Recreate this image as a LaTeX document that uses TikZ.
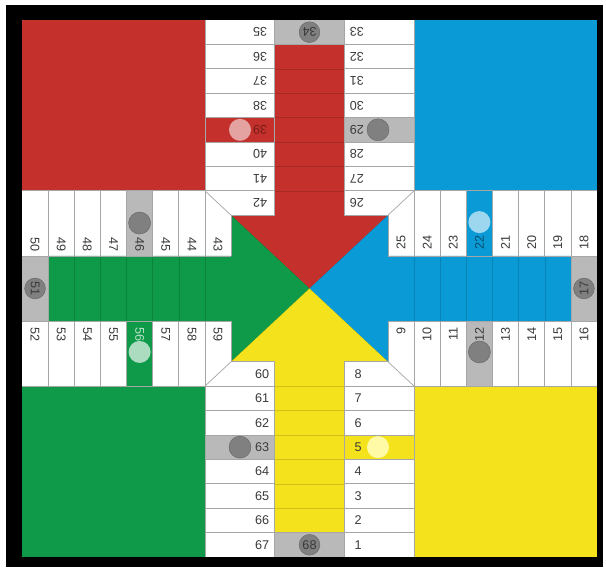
\documentclass[tikz,border=0pt]{standalone}
\usepackage{fontspec}
\setmainfont{Liberation Sans}
\usepackage{tikz}

\definecolor{parred}{HTML}{C4302B}
\definecolor{parblue}{HTML}{0A9BD7}
\definecolor{pargreen}{HTML}{0E9A48}
\definecolor{paryellow}{HTML}{F4E31C}
\definecolor{safegray}{HTML}{B9B9B9}
\definecolor{tokengray}{HTML}{808080}
\definecolor{numtext}{HTML}{3A3A3A}

\def\lanel{9.6667}
\def\laner{12.3333}

\begin{document}
\begin{tikzpicture}[x=0.6534cm, y=0.6102cm,
	every node/.style={font=\fontsize{9}{10}\selectfont},
	num/.style={text=numtext, inner sep=0pt},
	cellline/.style={draw=black!35, line width=0.5pt},
	lanediv/.style={draw=#1!85!black, line width=0.3pt},
	darktoken/.style={fill=tokengray, draw=black!60, line width=0.3pt}]
	\useasboundingbox (-0.8416,-0.4916) rectangle (22.344,22.819);
	\fill[black] (-0.612,-0.41) rectangle (22.23,22.614);
	% home squares
	\fill[parred] (0,15) rectangle (7,22);
	\fill[parblue] (15,15) rectangle (22,22);
	\fill[pargreen] (0,0) rectangle (7,7);
	\fill[paryellow] (15,0) rectangle (22,7);
	% arms
	\fill[white] (7,14) rectangle (15,22);
	\fill[white] (7,0) rectangle (15,8);
	\fill[white] (0,7) rectangle (8,15);
	\fill[white] (14,7) rectangle (22,15);
	% home lanes and centre
	\fill[parred] (\lanel,21) -- (\laner,21) -- (\laner,14) -- (14,14) -- (11,11) -- (8,14) -- (\lanel,14) -- cycle;
	\fill[pargreen] (1,\lanel) -- (1,\laner) -- (8,\laner) -- (8,14) -- (11,11) -- (8,8) -- (8,\lanel) -- cycle;
	\fill[parblue] (21,\lanel) -- (21,\laner) -- (14,\laner) -- (14,14) -- (11,11) -- (14,8) -- (14,\lanel) -- cycle;
	\fill[paryellow] (\lanel,1) -- (\laner,1) -- (\laner,8) -- (14,8) -- (11,11) -- (8,8) -- (\lanel,8) -- cycle;
	% safe cells
	\fill[safegray] (\lanel,21) rectangle (\laner,22);
	\fill[safegray] (\lanel,0) rectangle (\laner,1);
	\fill[safegray] (0,\lanel) rectangle (1,\laner);
	\fill[safegray] (21,\lanel) rectangle (22,\laner);
	\fill[safegray] (\laner,17) rectangle (15,18);
	\fill[safegray] (4,\laner) rectangle (5,15);
	\fill[safegray] (7,4) rectangle (\lanel,5);
	\fill[safegray] (17,7) rectangle (18,\lanel);
	\fill[parred] (7,17) rectangle (\lanel,18);
	\fill[pargreen] (4,7) rectangle (5,\lanel);
	\fill[paryellow] (\laner,4) rectangle (15,5);
	\fill[parblue] (17,\laner) rectangle (18,15);
	% lane dividers
	\foreach \i in {15,...,20} \draw[lanediv=parred] (\lanel,\i) -- (\laner,\i);
	\foreach \i in {2,...,7} \draw[lanediv=paryellow] (\lanel,\i) -- (\laner,\i);
	\foreach \i in {2,...,7} \draw[lanediv=pargreen] (\i,\lanel) -- (\i,\laner);
	\foreach \i in {15,...,20} \draw[lanediv=parblue] (\i,\lanel) -- (\i,\laner);
	% cell lines
	\foreach \i in {1,...,7} {
		\draw[cellline] (7,\i) -- (\lanel,\i) (\laner,\i) -- (15,\i);
		\draw[cellline] (\i,7) -- (\i,\lanel) (\i,\laner) -- (\i,15);
	}
	\foreach \i in {15,...,21} {
		\draw[cellline] (7,\i) -- (\lanel,\i) (\laner,\i) -- (15,\i);
		\draw[cellline] (\i,7) -- (\i,\lanel) (\i,\laner) -- (\i,15);
	}
	\draw[cellline] (\lanel,1) -- (\laner,1) (\lanel,21) -- (\laner,21) (1,\lanel) -- (1,\laner) (21,\lanel) -- (21,\laner);
	\draw[cellline] (8,8) -- (\lanel,8) (\laner,8) -- (14,8) (8,14) -- (\lanel,14) (\laner,14) -- (14,14);
	\draw[cellline] (8,8) -- (8,\lanel) (8,\laner) -- (8,14) (14,8) -- (14,\lanel) (14,\laner) -- (14,14);
	\draw[cellline] (7,0) -- (7,7) (\lanel,0) -- (\lanel,8) (\laner,0) -- (\laner,8) (15,0) -- (15,7);
	\draw[cellline] (7,15) -- (7,22) (\lanel,14) -- (\lanel,22) (\laner,14) -- (\laner,22) (15,15) -- (15,22);
	\draw[cellline] (0,7) -- (7,7) (0,\lanel) -- (8,\lanel) (0,\laner) -- (8,\laner) (0,15) -- (7,15);
	\draw[cellline] (15,7) -- (22,7) (14,\lanel) -- (22,\lanel) (14,\laner) -- (22,\laner) (15,15) -- (22,15);
	\draw[cellline] (7,15) -- (8,14) (15,15) -- (14,14) (7,7) -- (8,8) (15,7) -- (14,8);
	% tokens
	\fill[darktoken] (11,21.5) circle (0.26cm);
	\fill[darktoken] (11,0.5) circle (0.26cm);
	\fill[darktoken] (0.5,11) circle (0.26cm);
	\fill[darktoken] (21.5,11) circle (0.26cm);
	\filldraw[darktoken] (8.34,4.5) circle (0.275cm);
	\filldraw[darktoken] (13.62,17.5) circle (0.275cm);
	\filldraw[darktoken] (4.5,13.68) circle (0.275cm);
	\filldraw[darktoken] (17.5,8.4) circle (0.275cm);
	\fill[yellow!35] (13.62,4.5) circle (0.275cm);
	\fill[parred!45!white] (8.34,17.5) circle (0.275cm);
	\fill[pargreen!35!white] (4.5,8.4) circle (0.275cm);
	\fill[parblue!40!white] (17.5,13.72) circle (0.275cm);
	% numbers
	\foreach \k in {1,...,8} {
		\pgfmathtruncatemacro\m{68-\k}
		\node[num, anchor=east] (n\m) at (\lanel-0.2,\k-0.5) {\m};
		\node[num, anchor=west] (n\k) at (\laner+0.38,\k-0.5) {\k};
	}
	\foreach \m/\y in {42/14.5, 41/15.5, 40/16.5, 38/18.5, 37/19.5, 36/20.5, 35/21.5}
		\node[num, rotate=180, anchor=west] (n\m) at (\lanel-0.28,\y) {\m};
	\node[num, rotate=180, anchor=west, text=parred!60!black] (n39) at (\lanel-0.28,17.5) {39};
	\foreach \j in {1,...,8} {
		\pgfmathtruncatemacro\p{25+\j}
		\node[num, rotate=180, anchor=east] (n\p) at (\laner+0.2,13.5+\j) {\p};
	}
	\foreach \j in {1,...,8} {
		\pgfmathtruncatemacro\m{51-\j}
		\node[num, rotate=-90, anchor=east] (n\m) at (\j-0.5,\laner+0.18) {\m};
	}
	\foreach \m/\x in {52/0.5, 53/1.5, 54/2.5, 55/3.5, 57/5.5, 58/6.5, 59/7.5}
		\node[num, rotate=-90, anchor=west] (n\m) at (\x,\lanel-0.25) {\m};
	\node[num, rotate=-90, anchor=west, text=pargreen!30!white] (n56) at (4.5,\lanel-0.25) {56};
	\foreach \m/\x in {25/14.5, 24/15.5, 23/16.5, 21/18.5, 20/19.5, 19/20.5, 18/21.5}
		\node[num, rotate=90, anchor=west] (n\m) at (\x,\laner+0.25) {\m};
	\node[num, rotate=90, anchor=west, text=parblue!50!black] (n22) at (17.5,\laner+0.25) {22};
	\foreach \j in {1,...,8} {
		\pgfmathtruncatemacro\p{8+\j}
		\node[num, rotate=90, anchor=east] (n\p) at (13.5+\j,\lanel-0.25) {\p};
	}
	\node[num] (n68) at (11,0.5) {68};
	\node[num, rotate=180] (n34) at (11,21.5) {34};
	\node[num, rotate=-90] (n51) at (0.5,11) {51};
	\node[num, rotate=90] (n17) at (21.5,11) {17};
\end{tikzpicture}
\end{document}
